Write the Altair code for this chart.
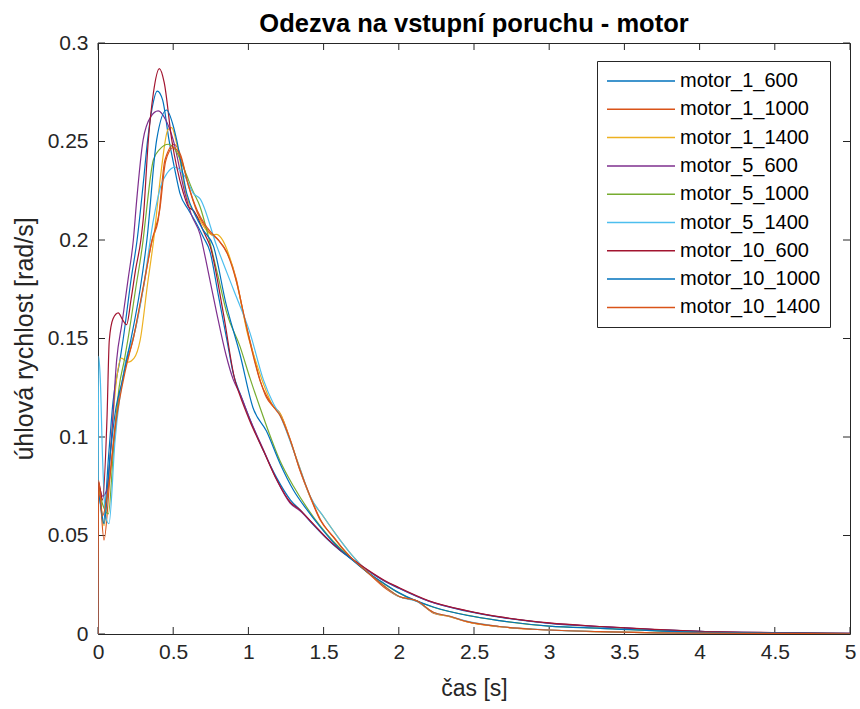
import altair as alt
import pandas as pd

names = ["motor_1_600", "motor_1_1000", "motor_1_1400", "motor_5_600", "motor_5_1000",
         "motor_5_1400", "motor_10_600", "motor_10_1000", "motor_10_1400"]
colors = ["#0072BD", "#D95319", "#EDB120", "#7E2F8E", "#77AC30",
          "#4DBEEE", "#A2142F", "#0072BD", "#D95319"]

x_ticks = [0, 0.5, 1, 1.5, 2, 2.5, 3, 3.5, 4, 4.5, 5]
y_ticks = [0, 0.05, 0.1, 0.15, 0.2, 0.25, 0.3]

t_1_600 = [0, 0.004, 0.035, 0.07, 0.1, 0.146, 0.168, 0.22, 0.26, 0.3, 0.33, 0.36, 0.394, 0.43, 0.472, 0.51, 0.545, 0.6, 0.65, 0.7, 0.745, 0.8, 0.86, 0.9, 0.95, 1.01, 1.1, 1.19, 1.28, 1.35, 1.43, 1.52, 1.6, 1.7, 1.8, 1.9, 2.0, 2.2, 2.45, 2.7, 3.0, 3.35, 3.7, 4.0, 4.5, 5.0]
v_1_600 = [0, 0.072, 0.056, 0.09, 0.118, 0.139, 0.15, 0.18, 0.2, 0.228, 0.2508, 0.267, 0.2756, 0.271, 0.2508, 0.236, 0.2237, 0.2155, 0.209, 0.2015, 0.194, 0.172, 0.148, 0.132, 0.121, 0.109, 0.093, 0.079, 0.068, 0.0625, 0.0555, 0.0485, 0.043, 0.0372, 0.0318, 0.027, 0.0232, 0.0166, 0.0116, 0.0082, 0.0054, 0.0036, 0.0022, 0.0013, 0.0006, 0.0003]

t_1_1000 = [0, 0.004, 0.04, 0.08, 0.12, 0.18, 0.235, 0.3, 0.36, 0.40, 0.445, 0.507, 0.55, 0.6, 0.66, 0.71, 0.745, 0.8, 0.856, 0.92, 0.966, 1.02, 1.077, 1.12, 1.166, 1.21, 1.277, 1.343, 1.41, 1.476, 1.565, 1.676, 1.787, 1.897, 2.0, 2.12, 2.23, 2.34, 2.45, 2.67, 2.89, 3.34, 4.0, 5.0]
v_1_1000 = [0, 0.077, 0.0477, 0.08, 0.11, 0.135, 0.15, 0.175, 0.2, 0.21, 0.2406, 0.2486, 0.243, 0.228, 0.214, 0.207, 0.2035, 0.2, 0.194, 0.18, 0.163, 0.146, 0.129, 0.12, 0.1154, 0.112, 0.099, 0.083, 0.0697, 0.058, 0.0494, 0.039, 0.0316, 0.024, 0.019, 0.0168, 0.0106, 0.0088, 0.0063, 0.0037, 0.0024, 0.0012, 0.0004, 0.0001]

t_1_1400 = [0, 0.004, 0.04, 0.08, 0.12, 0.155, 0.2, 0.24, 0.28, 0.33, 0.37, 0.42, 0.465, 0.49, 0.52, 0.59, 0.678, 0.72, 0.76, 0.789, 0.82, 0.889, 0.944, 0.989, 1.055, 1.1, 1.166, 1.21, 1.277, 1.343, 1.41, 1.5, 1.61, 1.7, 1.8, 1.9, 2.0, 2.12, 2.23, 2.34, 2.45, 2.67, 2.89, 3.34, 4.0, 5.0]
v_1_1400 = [0, 0.075, 0.055, 0.09, 0.127, 0.14, 0.138, 0.14, 0.149, 0.178, 0.2, 0.235, 0.256, 0.257, 0.25, 0.222, 0.21, 0.205, 0.2025, 0.2029, 0.201, 0.188, 0.171, 0.154, 0.137, 0.127, 0.1154, 0.112, 0.0985, 0.084, 0.0697, 0.0595, 0.0477, 0.039, 0.031, 0.0245, 0.019, 0.0168, 0.0108, 0.0088, 0.0063, 0.0037, 0.0024, 0.0012, 0.0004, 0.0001]

t_5_600 = [0, 0.004, 0.03, 0.058, 0.09, 0.124, 0.16, 0.2, 0.235, 0.257, 0.3, 0.35, 0.4, 0.45, 0.5, 0.578, 0.62, 0.678, 0.73, 0.789, 0.85, 0.9, 0.944, 1.01, 1.1, 1.19, 1.277, 1.343, 1.43, 1.52, 1.6, 1.7, 1.8, 1.9, 2.0, 2.2, 2.45, 2.7, 3.0, 3.35, 3.7, 4.0, 4.5, 5.0]
v_5_600 = [0, 0.075, 0.07, 0.073, 0.1, 0.139, 0.158, 0.18, 0.2, 0.22, 0.2508, 0.2625, 0.2655, 0.261, 0.2508, 0.2237, 0.213, 0.203, 0.185, 0.163, 0.142, 0.129, 0.122, 0.109, 0.0935, 0.078, 0.0665, 0.0625, 0.0558, 0.0487, 0.0432, 0.0375, 0.032, 0.0272, 0.0234, 0.0167, 0.0118, 0.0083, 0.0055, 0.0037, 0.0022, 0.0013, 0.0006, 0.0003]

t_5_1000 = [0, 0.004, 0.03, 0.069, 0.1, 0.14, 0.175, 0.2, 0.25, 0.3, 0.315, 0.368, 0.41, 0.468, 0.52, 0.578, 0.63, 0.678, 0.74, 0.8, 0.856, 0.944, 1.01, 1.1, 1.21, 1.3, 1.39, 1.476, 1.565, 1.676, 1.787, 1.9, 2.0, 2.23, 2.45, 2.67, 3.0, 3.34, 4.0, 5.0]
v_5_1000 = [0, 0.074, 0.066, 0.061, 0.09, 0.125, 0.139, 0.15, 0.175, 0.2, 0.21, 0.2406, 0.246, 0.2486, 0.245, 0.235, 0.225, 0.217, 0.2, 0.181, 0.163, 0.146, 0.13, 0.11, 0.088, 0.075, 0.064, 0.055, 0.047, 0.039, 0.0316, 0.0255, 0.0208, 0.0136, 0.0096, 0.0068, 0.004, 0.0029, 0.0009, 0.0002]

t_5_1400 = [0, 0.004, 0.015, 0.03, 0.05, 0.073, 0.113, 0.18, 0.25, 0.3, 0.368, 0.42, 0.46, 0.512, 0.58, 0.634, 0.678, 0.789, 0.9, 1.01, 1.1, 1.166, 1.21, 1.277, 1.343, 1.41, 1.5, 1.61, 1.7, 1.8, 1.9, 2.0, 2.12, 2.23, 2.34, 2.45, 2.67, 2.89, 3.34, 4.0, 5.0]
v_5_1400 = [0, 0.141, 0.13, 0.09, 0.06, 0.056, 0.098, 0.137, 0.155, 0.175, 0.21, 0.228, 0.234, 0.237, 0.232, 0.2237, 0.221, 0.197, 0.175, 0.153, 0.129, 0.117, 0.111, 0.098, 0.084, 0.070, 0.0595, 0.0477, 0.039, 0.031, 0.0245, 0.019, 0.0165, 0.011, 0.009, 0.0065, 0.0038, 0.0025, 0.0012, 0.0004, 0.0001]

t_10_600 = [0, 0.004, 0.03, 0.06, 0.075, 0.1, 0.135, 0.16, 0.19, 0.22, 0.25, 0.285, 0.30, 0.335, 0.368, 0.408, 0.44, 0.49, 0.567, 0.60, 0.634, 0.71, 0.745, 0.833, 0.91, 0.944, 1.01, 1.1, 1.19, 1.277, 1.343, 1.43, 1.52, 1.6, 1.7, 1.8, 1.9, 2.0, 2.2, 2.45, 2.7, 3.0, 3.35, 3.7, 4.0, 4.5, 5.0]
v_10_600 = [0, 0.077, 0.068, 0.11, 0.149, 0.16, 0.163, 0.16, 0.157, 0.17, 0.185, 0.2, 0.21, 0.251, 0.2745, 0.287, 0.28, 0.251, 0.224, 0.217, 0.215, 0.203, 0.197, 0.163, 0.129, 0.121, 0.108, 0.093, 0.078, 0.067, 0.063, 0.056, 0.0488, 0.0433, 0.0376, 0.0322, 0.0274, 0.0236, 0.0169, 0.0119, 0.0084, 0.0056, 0.0038, 0.0023, 0.0014, 0.0007, 0.0003]

t_10_1000 = [0, 0.004, 0.04, 0.08, 0.12, 0.16, 0.19, 0.22, 0.28, 0.325, 0.39, 0.456, 0.5, 0.523, 0.59, 0.65, 0.7, 0.767, 0.85, 0.944, 1.03, 1.12, 1.21, 1.3, 1.39, 1.476, 1.565, 1.676, 1.787, 1.9, 2.0, 2.23, 2.45, 2.67, 3.0, 3.34, 4.0, 5.0]
v_10_1000 = [0, 0.07, 0.056, 0.09, 0.115, 0.128, 0.139, 0.15, 0.175, 0.2, 0.2508, 0.266, 0.258, 0.2508, 0.2237, 0.212, 0.205, 0.197, 0.168, 0.142, 0.115, 0.103, 0.0866, 0.073, 0.063, 0.0545, 0.0465, 0.0385, 0.0316, 0.0258, 0.021, 0.0137, 0.0095, 0.0068, 0.004, 0.0029, 0.0009, 0.0002]

t_10_1400 = [0, 0.004, 0.03, 0.07, 0.12, 0.18, 0.24, 0.3, 0.36, 0.41, 0.45, 0.5, 0.55, 0.6, 0.66, 0.71, 0.75, 0.8, 0.86, 0.92, 0.97, 1.02, 1.08, 1.12, 1.17, 1.21, 1.28, 1.34, 1.41, 1.48, 1.56, 1.68, 1.79, 1.9, 2.0, 2.12, 2.23, 2.34, 2.45, 2.67, 2.89, 3.34, 4.0, 5.0]
v_10_1400 = [0, 0.078, 0.06, 0.075, 0.108, 0.133, 0.152, 0.176, 0.2, 0.215, 0.24, 0.247, 0.242, 0.228, 0.215, 0.208, 0.204, 0.2, 0.193, 0.179, 0.162, 0.145, 0.128, 0.121, 0.115, 0.111, 0.098, 0.084, 0.07, 0.058, 0.0495, 0.039, 0.0315, 0.0245, 0.0192, 0.0168, 0.011, 0.009, 0.0064, 0.0038, 0.0024, 0.0012, 0.0004, 0.0001]

series = [
    (names[0], t_1_600, v_1_600),
    (names[1], t_1_1000, v_1_1000),
    (names[2], t_1_1400, v_1_1400),
    (names[3], t_5_600, v_5_600),
    (names[4], t_5_1000, v_5_1000),
    (names[5], t_5_1400, v_5_1400),
    (names[6], t_10_600, v_10_600),
    (names[7], t_10_1000, v_10_1000),
    (names[8], t_10_1400, v_10_1400),
]

rows = []
for name, ts, vs in series:
    for t, v in zip(ts, vs):
        rows.append({"series": name, "t": t, "v": v})
df = pd.DataFrame(rows)

W, H = 752, 591
FONT = "Liberation Sans"
AX = "#262626"
TL = 7

xs = alt.Scale(domain=[0, 5], nice=False, zero=False)
ys = alt.Scale(domain=[0, 0.3], nice=False, zero=False)

lines = alt.Chart(df).mark_line(strokeWidth=1.2, interpolate="monotone", clip=True).encode(
    x=alt.X("t:Q", scale=xs,
            axis=alt.Axis(values=x_ticks, format="~g", title="čas [s]", labelPadding=7,
                          labelFlush=False, titlePadding=15, titleFontSize=23,
                          grid=False, domain=False, ticks=False)),
    y=alt.Y("v:Q", scale=ys,
            axis=alt.Axis(values=y_ticks, format="~g", title="úhlová rychlost [rad/s]",
                          labelPadding=10, titlePadding=10, titleFontSize=25,
                          grid=False, domain=False, ticks=False)),
    color=alt.Color("series:N", sort=names,
                    scale=alt.Scale(domain=names, range=colors),
                    legend=alt.Legend(title=None, orient="none", legendX=499, legendY=18,
                                      symbolType="M -3.4 0 L 3.4 0", symbolSize=400,
                                      symbolStrokeWidth=1.5, symbolOffset=24,
                                      labelOffset=28, labelFontSize=20, labelFont=FONT,
                                      labelColor="#000000", rowPadding=7.3,
                                      padding=9, strokeColor=AX, fillColor="white")),
)

xt = pd.DataFrame({"t": x_ticks})
yt = pd.DataFrame({"v": y_ticks})
tick_style = dict(color=AX, strokeWidth=1)
bottom = alt.Chart(xt).mark_rule(**tick_style).encode(
    x=alt.X("t:Q", scale=xs), y=alt.value(H), y2=alt.value(H - TL))
top = alt.Chart(xt).mark_rule(**tick_style).encode(
    x=alt.X("t:Q", scale=xs), y=alt.value(0), y2=alt.value(TL))
left = alt.Chart(yt).mark_rule(**tick_style).encode(
    y=alt.Y("v:Q", scale=ys), x=alt.value(0), x2=alt.value(TL))
right = alt.Chart(yt).mark_rule(**tick_style).encode(
    y=alt.Y("v:Q", scale=ys), x=alt.value(W), x2=alt.value(W - TL))

chart = alt.layer(bottom, top, left, right, lines).properties(
    width=W, height=H,
    background="white",
    title=alt.TitleParams("Odezva na vstupní poruchu - motor", fontSize=25.5, fontWeight="bold",
                          font=FONT, color="#000000", anchor="middle", offset=-5),
    autosize=alt.AutoSizeParams(type="none"),
    padding={"left": 98, "top": 43, "right": 10, "bottom": 75},
).configure_view(
    stroke=AX, strokeWidth=1
).configure_axis(
    domain=False, ticks=False, grid=False,
    labelFont=FONT, labelFontSize=21, labelColor=AX,
    titleFont=FONT, titleColor=AX, titleFontWeight="normal",
)

chart.save("out.html", embed_options={"renderer": "svg", "actions": False})
